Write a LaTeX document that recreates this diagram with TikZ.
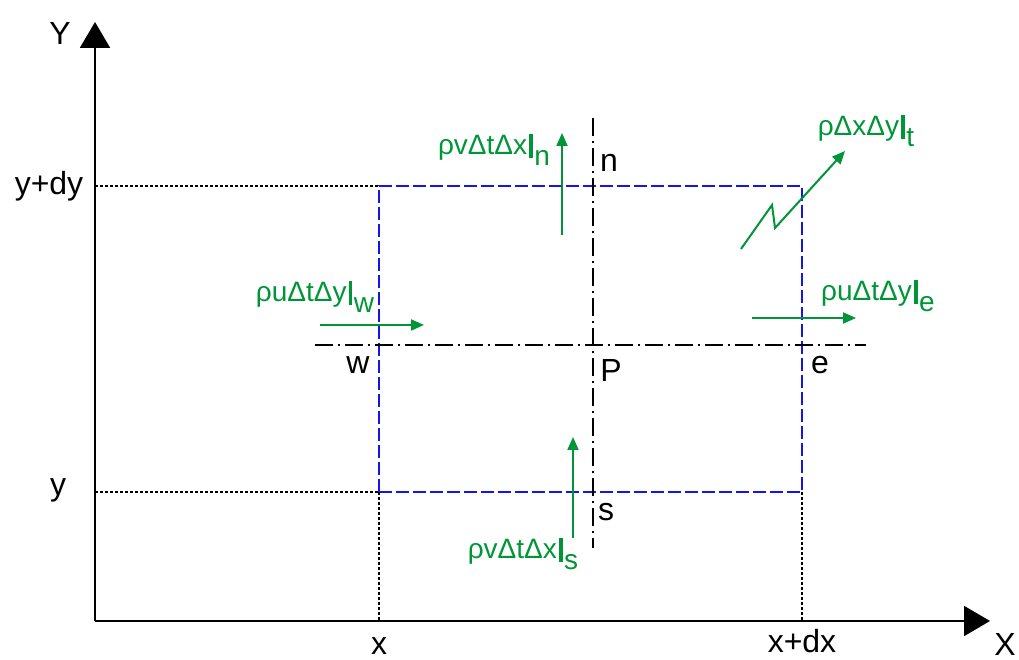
\documentclass[tikz,border=0pt]{standalone}
\usepackage{fontspec}
\setmainfont{Liberation Sans}
\usepackage{xcolor}
\usepackage{tikz}
\usetikzlibrary{arrows.meta,positioning,calc}

\definecolor{fluxgreen}{RGB}{0,150,55}
\definecolor{cvblue}{RGB}{20,20,235}

\newcommand{\fluxlabel}[2]{#1\kern0.08em\rule[-0.12em]{0.12em}{0.86em}\kern0.06em\raisebox{-0.4em}{#2}}

\begin{document}
\begin{tikzpicture}[x=1pt, y=1pt,
  axis/.style={line width=2pt, -{Triangle[length=26pt, width=30pt]}},
  guide/.style={line width=1.4pt, dash pattern=on 3pt off 2pt},
  cvline/.style={line width=1.6pt, cvblue, dash pattern=on 13pt off 4pt},
  centreline/.style={line width=2.2pt, dash pattern=on 18pt off 5pt on 2pt off 5pt},
  flux/.style={line width=2pt, fluxgreen, -{Triangle[length=13pt, width=11pt]}},
  lbl/.style={font=\fontsize{32}{36}\selectfont, inner sep=0pt},
  fluxlbl/.style={font=\fontsize{28}{31}\selectfont, text=fluxgreen, inner sep=0pt}]
  \useasboundingbox (0,0) rectangle (1019,660);

  % Axes
  \coordinate (O) at (95,39);
  \coordinate (Ytip) at (95,638);
  \coordinate (Xtip) at (990,39);
  \draw[axis] (O) -- (Ytip);
  \draw[axis] (O) -- (Xtip);
  \node[lbl] (Ylab) at (60,626) {Y};
  \node[lbl] (Xlab) at (1005,16) {X};

  % Control volume
  \coordinate (SW) at (379,168);
  \coordinate (NE) at (802,474);
  \coordinate (NW) at (SW |- NE);
  \coordinate (SE) at (NE |- SW);
  \draw[cvline] (SW) rectangle (NE);

  % Guides to the axes
  \draw[guide] (O |- NE) -- (NW);
  \draw[guide] (O |- SW) -- (SW);
  \draw[guide] (SW) -- (SW |- O);
  \draw[guide] (SE) -- (SE |- O);
  \node[lbl] (ydy) at (49,474) {y+dy};
  \node[lbl] (ylab) at (58,170) {y};
  \node[lbl] (xlab) at (379,14) {x};
  \node[lbl] (xdx) at (802,19) {x+dx};

  % Centre lines through P
  \coordinate (Wend) at (315,315);
  \coordinate (Eend) at (866,315);
  \coordinate (Nend) at (593,542);
  \coordinate (Send) at (593,112);
  \draw[centreline] (Wend) -- (Eend);
  \draw[centreline] (Nend) -- (Send);
  \node[lbl] (n) at (609,497) {n};
  \node[lbl] (P) at (611,290) {P};
  \node[lbl] (w) at (358,295) {w};
  \node[lbl] (e) at (820,295) {e};
  \node[lbl] (s) at (606,148) {s};

  % Fluxes
  \coordinate (fn0) at (562,425);
  \coordinate (fn1) at (562,527);
  \coordinate (fs0) at (573,122);
  \coordinate (fs1) at (573,223);
  \coordinate (fw0) at (320,335);
  \coordinate (fw1) at (424,335);
  \coordinate (fe0) at (752,342);
  \coordinate (fe1) at (856,342);
  \coordinate (ft0) at (741,411);
  \coordinate (ft1) at (772,455);
  \coordinate (ft2) at (775,432);
  \coordinate (ft3) at (845,509);
  \draw[flux] (fn0) -- (fn1);
  \draw[flux] (fs0) -- (fs1);
  \draw[flux] (fw0) -- (fw1);
  \draw[flux] (fe0) -- (fe1);
  \draw[flux, line join=miter] (ft0) -- (ft1) -- (ft2) -- (ft3);
  \node[fluxlbl] (qn) at (494,510) {\fluxlabel{ρvΔtΔx}{n}};
  \node[fluxlbl] (qt) at (866,529) {\fluxlabel{ρΔxΔy}{t}};
  \node[fluxlbl] (qw) at (315,363) {\fluxlabel{ρuΔtΔy}{w}};
  \node[fluxlbl] (qe) at (878,364) {\fluxlabel{ρuΔtΔy}{e}};
  \node[fluxlbl] (qs) at (523,106) {\fluxlabel{ρvΔtΔx}{s}};
\end{tikzpicture}
\end{document}
